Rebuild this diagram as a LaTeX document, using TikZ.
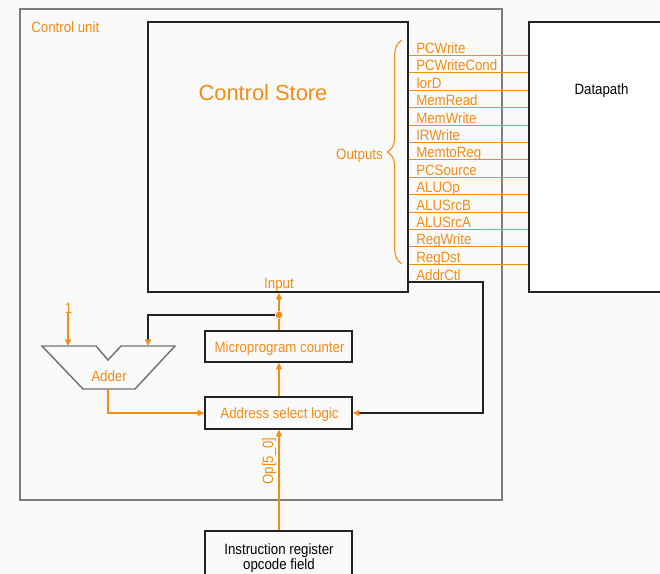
\documentclass[tikz,border=0pt]{standalone}
\usepackage{fontspec}
\setmainfont{Liberation Sans}
\newfontfamily\smf[FakeStretch=0.89]{Liberation Sans}
\usetikzlibrary{arrows.meta,fit,decorations.pathreplacing}
\definecolor{org}{RGB}{245,140,20}
\definecolor{bgc}{RGB}{250,250,250}
\definecolor{cugray}{RGB}{125,125,125}
\definecolor{dark}{RGB}{35,35,35}
\definecolor{addgray}{RGB}{115,115,115}
\begin{document}
\begin{tikzpicture}[x=0.75pt,y=-0.75pt,
  box/.style={draw=dark,line width=1pt,inner sep=0pt},
  cubox/.style={draw=cugray,line width=2.1pt,inner sep=0pt},
  otxt/.style={text=org,font=\smf\fontsize{11.2}{13}\selectfont,inner sep=0pt},
  btxt/.style={text=black,font=\smf\fontsize{11.2}{11.4}\selectfont,inner sep=0pt},
  oline/.style={draw=org,line width=1.1pt},
  oarr/.style={draw=org,line width=1pt,-{Triangle[length=5pt,width=4.5pt]}},
  karr/.style={draw=dark,line width=1pt,-{Triangle[length=5pt,width=4.5pt,color=org]}},
]
\fill[bgc] (0,0) rectangle (660,574);
\clip (0,0) rectangle (660,574);

% boxes
\node[cubox,fit={(20,9) (502,500)}] (cu) {};
\node[box,fit={(148,22) (408,292)}] (cs) {};
\node[box,fill=white,fit={(529,22) (720,292)}] (dp) {};
\node[box,fit={(205,331) (352,362)}] (mpc) {};
\node[box,fit={(205,397) (352,429)}] (asl) {};
\node[box,fit={(205,531) (352,600)}] (ir) {};

% texts
\node[otxt,anchor=base west] (cutxt) at (31,33) {Control unit};
\node[otxt,font=\fontsize{16.4}{18}\selectfont,anchor=base] (cstxt) at (263,100.5) {Control Store};
\node[btxt,anchor=base] (dptxt) at (601.5,95) {Datapath};
\node[otxt,anchor=base] (mpctxt) at (279.5,352.5) {Microprogram counter};
\node[otxt,anchor=base] (asltxt) at (279.5,418.5) {Address select logic};
\node[btxt,align=center] (irtxt) at (279,558) {Instruction register\\opcode field};
\node[otxt,anchor=base] (inputtxt) at (279,288) {Input};
\node[otxt,anchor=base east] (outtxt) at (383,159.5) {Outputs};

% outputs
\foreach \t [count=\i] in {PCWrite,PCWriteCond,IorD,MemRead,MemWrite,IRWrite,MemtoReg,PCSource,ALUOp,ALUSrcB,ALUSrcA,RegWrite,RegDst} {
  \pgfmathsetmacro\yy{round(55+(\i-1)*17.4)+0.5}
  \coordinate (oa\i) at (408,\yy);
  \draw[oline] (cs.east |- oa\i) -- (dp.west |- oa\i);
  \node[otxt,anchor=base west] (ol\i) at (416,{\yy-2.2}) {\t};
}
\node[otxt,anchor=base west] (addrctl) at (416,280.5) {AddrCtl};
\draw[draw=org,line width=0.8pt,decorate,decoration={brace,amplitude=11pt}]
  (402,264) -- (402,40);

% adder
\draw[draw=addgray,line width=1.1pt,line join=miter]
  (42,346) -- (96,346) -- (108,360) -- (121,346) -- (175,346) -- (135,389) -- (83,389) -- cycle;
\node[otxt,anchor=base] (adder) at (109,381.5) {Adder};
\coordinate (addin1) at (68,346);
\coordinate (addin2) at (148,346);
\coordinate (addout) at (108,389);
\node[otxt,anchor=base] (one) at (68.5,313) {1};

% connectors
\node[circle,fill=org,inner sep=0pt,minimum size=5pt] (dot) at (279,315) {};
\draw[draw=org,line width=1pt] (mpc.north -| dot) -- (dot);
\draw[oarr] (dot) -- (dot |- cs.south);
\draw[karr] (dot) -| (addin2);
\draw[oarr] (one.south -| addin1) -- (addin1);
\draw[oarr] (addout) |- (asl.west);
\draw[oarr] (asl.north -| dot) -- (mpc.south -| dot);
\coordinate (ac) at (408,282);
\draw[karr] (ac) -- (483,282) |- (asl.east);
\draw[oarr] (ir.north -| dot) -- (asl.south -| dot);
\node[otxt,rotate=90,anchor=base] (optxt) at (273,461) {Op[5\_0]};
\end{tikzpicture}
\end{document}
